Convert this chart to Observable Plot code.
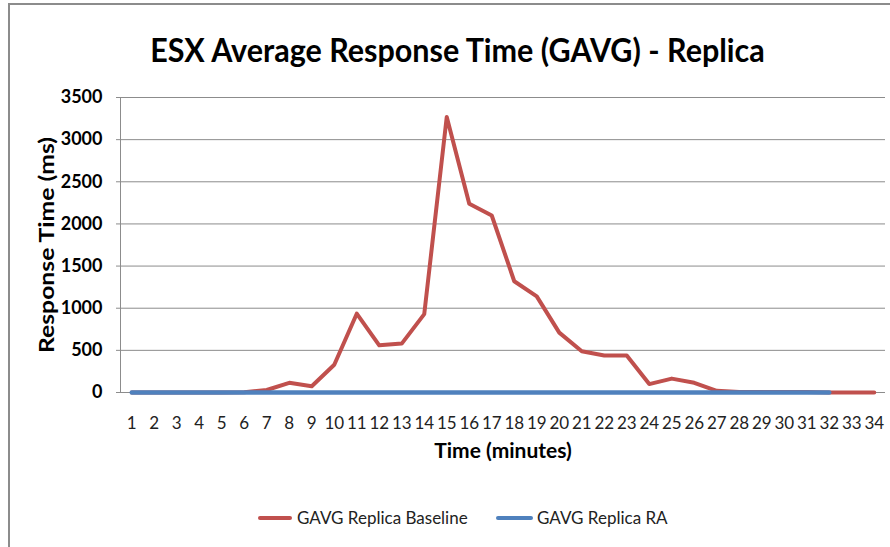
<!DOCTYPE html>
<html>
<head>
<meta charset="utf-8">
<script src="https://cdn.jsdelivr.net/npm/d3@7"></script>
<script src="https://cdn.jsdelivr.net/npm/@observablehq/plot@0.6"></script>
<style>
  html, body { margin: 0; padding: 0; background: #fff; }
  body { width: 890px; height: 547px; position: relative; overflow: hidden;
         font-family: Lato, "Open Sans", sans-serif; }
  #frame { position: absolute; left: 8px; top: 3px; width: 900px; height: 560px;
           border-left: 2px solid #8c8c8c; border-top: 2px solid #8c8c8c; }
  #titlewrap { position: absolute; left: 0; width: 914px; top: 30px; text-align: center; }
  #title { display: inline-block; transform: scaleX(0.953); transform-origin: center;
           font-weight: bold; font-size: 32px; color: #000; line-height: 40px; }
  #chart { position: absolute; left: 0; top: 80px; }
  .leg { position: absolute; top: 507px; font-size: 17px; color: #222; line-height: 22px; }
  .sw { position: absolute; height: 4px; border-radius: 2px; top: 516px; }
</style>
</head>
<body>
<div id="frame"></div>
<div id="titlewrap"><span id="title">ESX Average Response Time (GAVG) - Replica</span></div>
<div id="chart"></div>
<div class="sw" style="left:258px;width:34px;background:#C0504D"></div>
<div class="leg" style="left:297px">GAVG Replica Baseline</div>
<div class="sw" style="left:496px;width:37px;background:#4F81BD"></div>
<div class="leg" style="left:537px">GAVG Replica RA</div>
<script>
const categories = [1,2,3,4,5,6,7,8,9,10,11,12,13,14,15,16,17,18,19,20,21,22,23,24,25,26,27,28,29,30,31,32,33,34];
const baselineValues = [0,0,0,0,0,2,30,115,75,330,935,560,580,930,3270,2240,2100,1320,1140,710,490,440,440,100,165,115,20,5,5,5,5,0,0,0];
const raValues = [0,0,0,0,0,0,0,0,0,0,0,0,0,0,0,0,0,0,0,0,0,0,0,0,0,0,0,0,0,0,0,0];
const yTicks = [0,500,1000,1500,2000,2500,3000,3500];
const seriesNames = ["GAVG Replica Baseline", "GAVG Replica RA"];
const seriesColors = ["#C0504D", "#4F81BD"];

const baseline = baselineValues.map((v, i) => ({x: categories[i], y: v}));
const ra = raValues.map((v, i) => ({x: categories[i], y: v}));

const chart = Plot.plot({
  width: 890,
  height: 400,
  marginLeft: 120,
  marginRight: 5,
  marginTop: 17,
  marginBottom: 88,
  style: {fontFamily: 'Lato, "Open Sans", sans-serif', background: "transparent", overflow: "visible"},
  x: {type: "point", domain: categories, padding: 0.5, round: false},
  y: {domain: [0, 3500]},
  marks: [
    Plot.gridY(yTicks, {stroke: "#8c8c8c", strokeOpacity: 1, strokeWidth: 1}),
    Plot.axisY(yTicks, {tickSize: 4, tickPadding: 14, stroke: "#8c8c8c", fill: "#000", fontWeight: "bold", fontSize: 18, label: null, tickFormat: d => String(d)}),
    Plot.frame({anchor: "left", stroke: "#8c8c8c"}),
    Plot.axisX(categories, {tickSize: 0, tickPadding: 24, fill: "#222", fontSize: 17, label: null}),
    Plot.lineY(baseline, {x: "x", y: "y", stroke: seriesColors[0], strokeWidth: 4, strokeLinejoin: "round"}),
    Plot.lineY(ra, {x: "x", y: "y", stroke: seriesColors[1], strokeWidth: 4.5, strokeLinejoin: "round"}),
    Plot.text(["Time (minutes)"], {frameAnchor: "bottom", dy: 65, text: d => d, fontWeight: "bold", fontSize: 21, fill: "#000"}),
    Plot.text(["Response Time (ms)"], {frameAnchor: "left", dx: -73, rotate: -90, textAnchor: "middle", text: d => d, fontWeight: "bold", fontSize: 20, fill: "#000"})
  ]
});
chart.querySelectorAll("text").forEach(t => {
  if (t.textContent === "Response Time (ms)") {
    t.setAttribute("textLength", 216);
    t.setAttribute("lengthAdjust", "spacingAndGlyphs");
  }
});
document.getElementById("chart").appendChild(chart);
</script>
</body>
</html>
